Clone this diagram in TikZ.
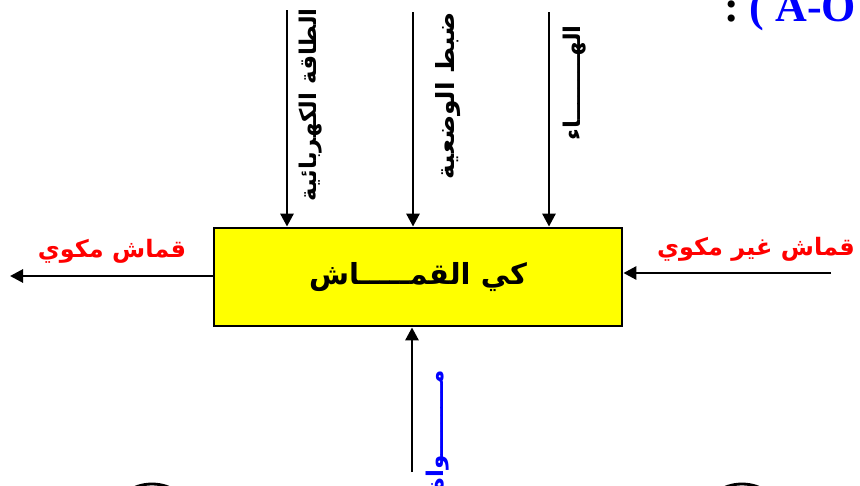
\documentclass[tikz,border=0pt]{standalone}
\usepackage{fontspec}
\setmainfont{Liberation Serif}
\newfontfamily\arabicfont[Script=Arabic]{DejaVu Sans}
\TeXXeTstate=1
\usetikzlibrary{arrows.meta}
\definecolor{boxyellow}{RGB}{255,255,0}
\definecolor{lblred}{RGB}{255,0,0}
\definecolor{lblblue}{RGB}{0,0,255}
\begin{document}
\begin{tikzpicture}[x=1pt,y=-1pt,
  arr/.style={line width=2.8pt,-{Triangle[length=13pt,width=13pt]}},
  ar/.style={font=\arabicfont\bfseries, inner sep=0pt},
  vlbl/.style={ar, rotate=90, anchor=east, font=\arabicfont\bfseries\fontsize{23}{25}\selectfont},
  hlbl/.style={ar, text=lblred, font=\arabicfont\bfseries\fontsize{24}{26}\selectfont},
]
\useasboundingbox (0,0) rectangle (860,485);
% main box
\node[draw=black, line width=2.8pt, fill=boxyellow, minimum width=408pt, minimum height=98pt, inner sep=0pt,
  font=\arabicfont\bfseries\fontsize{29}{31}\selectfont] (box) at (418,277) {\beginR كي القمـــــاش\endR};
% top inputs
\coordinate (t1) at (287,10);
\coordinate (t2) at (413,12);
\coordinate (t3) at (549,12);
\draw[arr] (t1) -- (t1 |- box.north);
\draw[arr] (t2) -- (t2 |- box.north);
\draw[arr] (t3) -- (t3 |- box.north);
\node[vlbl] (l1) at (311,8) {\beginR الطاقة الكهربائية\endR};
\node[vlbl, font=\arabicfont\bfseries\fontsize{25}{27}\selectfont] (l2) at (448,12) {\beginR ضبط الوضعية\endR};
\node[vlbl] (l3) at (575,25) {\beginR الهــــــــاء\endR};
% left output
\coordinate (lo) at (10,276);
\draw[arr] (box.west |- lo) -- (lo);
\node[hlbl] (lout) at (112,251) {\beginR قماش مكوي\endR};
% right input
\coordinate (ri) at (831,273);
\draw[arr] (ri) -- (box.east |- ri);
\node[hlbl] (rin) at (756,249) {\beginR قماش غير مكوي\endR};
% bottom mechanism
\coordinate (bm) at (412,472);
\draw[arr] (bm) -- (bm |- box.south);
\node[vlbl, text=lblblue] (mech) at (438,370) {\beginR مـــــــــواة\endR};
% title fragment
\node[anchor=base west, inner sep=0pt, font=\bfseries\fontsize{44}{48}\selectfont] (title) at (724,21)
  {:\ \textcolor{lblblue}{( A-O}};
% partial ellipses at bottom
\draw[line width=2.8pt] (152,512) ellipse (36pt and 28pt);
\draw[line width=2.8pt] (742,512) ellipse (36pt and 28pt);
\end{tikzpicture}
\end{document}
